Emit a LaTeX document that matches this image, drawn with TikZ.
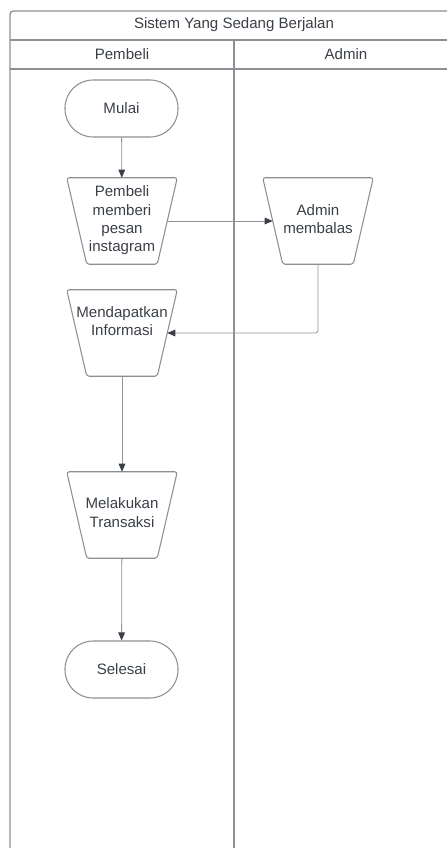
\documentclass[tikz,border=0pt]{standalone}
\usepackage{fontspec}
\setmainfont{Liberation Sans}
\usetikzlibrary{arrows.meta}
\definecolor{lane}{HTML}{8C8F94}
\definecolor{ink}{HTML}{3A3F47}
\definecolor{conn}{HTML}{8F9297}
\newcommand{\trapoutline}[1]{%
  \draw[shapeline, rounded corners=2pt]
    ([xshift=-7.5pt]#1.north west) -- ([xshift=7.5pt]#1.north east) --
    ([xshift=-7.5pt]#1.south east) -- ([xshift=7.5pt]#1.south west) -- cycle;}
\begin{document}
\begin{tikzpicture}[x=0.75pt,y=-0.75pt,
  every node/.style={font=\fontsize{11.3}{13.8}\selectfont, text=ink},
  lanebox/.style={draw=lane, line width=1pt},
  shapeline/.style={draw=lane, line width=0.8pt},
  term/.style={shapeline, rectangle, rounded corners=21pt,
    minimum width=84.75pt, minimum height=42.75pt, inner sep=0pt},
  trapbody/.style={rectangle, minimum width=67.5pt, minimum height=64.5pt, inner sep=0pt},
  txt/.style={align=center, inner sep=0pt},
  flow/.style={draw=conn, line width=0.6pt,
    -{Triangle[length=6pt,width=5pt,color=ink]}}
]
\useasboundingbox (0,0) rectangle (446,848);
% swimlane frame
\draw[lanebox, rounded corners=2.5pt] (450,11) -- (10,11) -- (10,852);
\draw[lanebox] (10,40) -- (450,40);
\draw[lanebox] (10,69) -- (450,69);
\draw[lanebox] (234,40) -- (234,852);
\node (title) at (234,25) {Sistem Yang Sedang Berjalan};
\node (lane1) at (122,54) {Pembeli};
\node (lane2) at (346,54) {Admin};
% shapes
\node[term] (start) at (121.5,108.5) {Mulai};
\node[trapbody] (p) at (122,221) {};
\trapoutline{p}
\node[txt] (ptext) at (122,220.5) {Pembeli\\memberi\\pesan\\instagram};
\node[trapbody] (a) at (318,221) {};
\trapoutline{a}
\node[txt] (atext) at (318,219) {Admin\\membalas};
\node[trapbody] (m) at (122,333) {};
\trapoutline{m}
\node[txt] (mtext) at (122,321) {Mendapatkan\\Informasi};
\node[trapbody] (t) at (122,515) {};
\trapoutline{t}
\node[txt] (ttext) at (122,512.5) {Melakukan\\Transaksi};
\node[term] (stop) at (121.5,669.5) {Selesai};
% connectors
\draw[flow] (start) -- (p);
\draw[flow] (p.east) -- (a.west);
\draw[flow, rounded corners=2pt] (a.south) |- (m.east);
\draw[flow] (m) -- (t);
\draw[flow] (t) -- (stop);
\end{tikzpicture}
\end{document}
